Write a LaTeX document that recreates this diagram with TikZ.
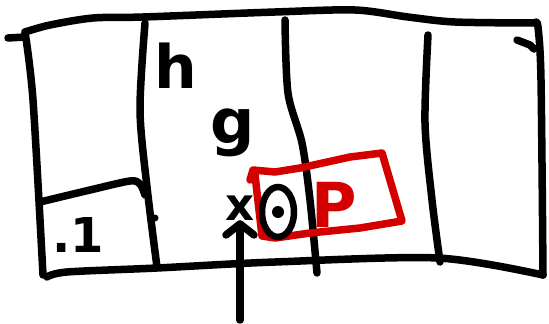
\documentclass[tikz,border=0pt]{standalone}
\usepackage{fontspec}
\setmainfont{DejaVu Sans}
\usetikzlibrary{arrows.meta,shapes.geometric}
\definecolor{sketchred}{HTML}{D40000}
\tikzset{
  ink/.style={line width=7.5pt, line cap=round, line join=round, black},
  redink/.style={line width=7.5pt, line cap=round, line join=round, sketchred},
  letter/.style={inner sep=0pt, font=\bfseries\fontsize{#1}{#1}\selectfont},
}
\begin{document}
\begin{tikzpicture}[x=1pt,y=-1pt]
\useasboundingbox (0,0) rectangle (549,324);
% outer frame
\draw[ink] (8,38) -- (25,37);
\draw[ink] plot[smooth] coordinates {(25,32) (50,25) (93,18) (143,17) (275,12) (355,10) (408,17) (455,22) (535,23)};
\draw[ink] plot[smooth] coordinates {(535,23) (538,27) (541,80) (543,275)};
\draw[ink] plot[smooth] coordinates {(47,277) (67,272) (157,268) (275,262) (438,258) (543,275)};
\draw[ink] plot[smooth] coordinates {(25,32) (33,100) (43,275)};
\draw[ink] (517,40) -- (530,45) -- (534,49);
% inner verticals
\draw[ink] plot[smooth] coordinates {(145,23) (140,110) (147,187) (157,267)};
\fill (155,218) circle (3.5pt);
\draw[ink] plot[smooth] coordinates {(40,202) (90,190) (130,181) (140,184) (145,195)};
\draw[ink] plot[smooth] coordinates {(285,20) (288,93) (302,143) (310,200) (317,273)};
\draw[ink] plot[smooth] coordinates {(428,35) (425,123) (432,200) (440,262)};
% red box
\draw[redink] (250,180) -- (253,170) -- (275,172) -- (300,168) -- (350,157) -- (382,153) -- (402,221) -- (360,228) -- (310,233) -- (275,238) -- (262,236) -- (255,175);
% labels
\node[letter=48pt, anchor=base] (one) at (78,252) {.1};
\node[letter=60pt, anchor=base] (h) at (176,88) {h};
\node[letter=62pt, anchor=base] (g) at (233,143) {g};
\node[letter=45pt, anchor=base] (x) at (240,220) {x};
\node[letter=62pt, anchor=base, text=sketchred] (p) at (334,227) {P};
\node[draw, ellipse, line width=6.5pt, minimum width=32pt, minimum height=50pt, inner sep=0pt] (ell) at (278,212) {};
\node[circle, fill, minimum size=12pt, inner sep=0pt] (dot) at (ell.center) {};
% arrow
\coordinate (tail) at (240,320);
\draw[ink, -{Straight Barb[length=11pt, width=28pt, line cap=round, line join=round]}] (tail) -- (x.south);
\end{tikzpicture}
\end{document}
